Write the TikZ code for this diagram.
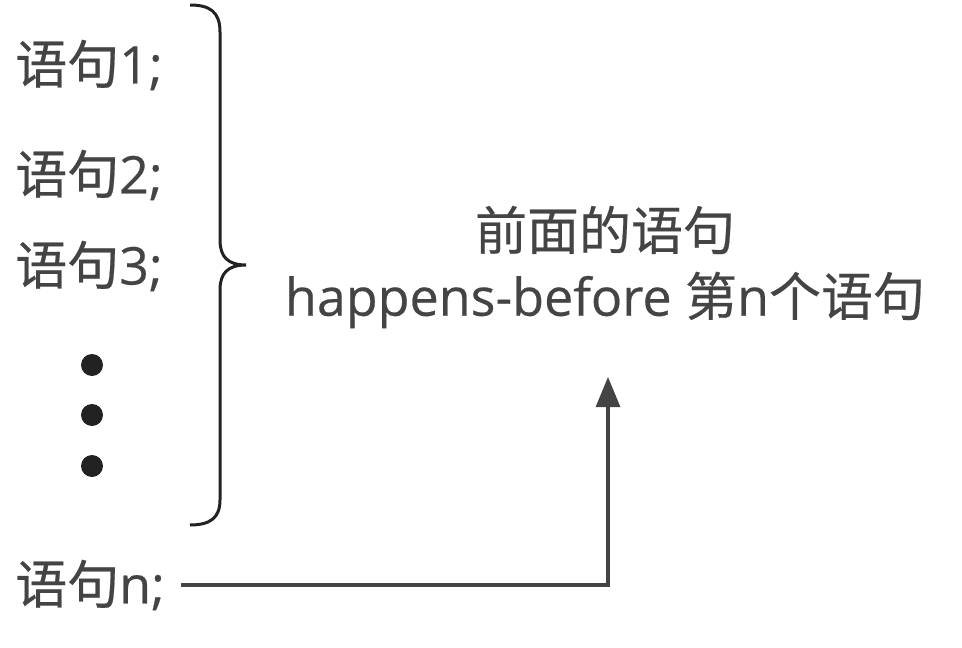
\documentclass[tikz,border=0pt]{standalone}
\usepackage{fontspec}
\setmainfont{Open Sans}[FakeBold=0.4]
\newfontfamily\cjk{Noto Sans CJK SC}[FakeBold=0.4]
\usepackage{xcolor}
\usetikzlibrary{arrows.meta}
\definecolor{ink}{HTML}{444444}
\definecolor{dotc}{HTML}{222222}

\begin{document}
\begin{tikzpicture}[x=1pt, y=-1pt,
    every node/.style={text=ink, font=\fontsize{52}{62}\selectfont, inner sep=0pt},
    stmt/.style={anchor=west},
    dotm/.style={circle, fill=dotc, minimum size=22pt},
    link/.style={draw=ink, line width=3.2pt, -{Triangle[width=24pt,length=30pt]}}]

    \useasboundingbox (0,0) rectangle (962,648);

    \node [stmt] (a) at (15, 65) {{\cjk 语句}1;};
    \node [stmt] (b) at (15, 175) {{\cjk 语句}2;};
    \node [stmt] (c) at (15, 266) {{\cjk 语句}3;};
    \node [dotm] (d1) at (92, 365) {};
    \node [dotm] (d2) at (92, 415) {};
    \node [dotm] (d3) at (92, 466) {};
    \node [stmt] (e) at (15, 585) {{\cjk 语句}n;};
    \node (f) at (605, 230) {\cjk 前面的语句};
    \node (g) at (605, 300) {happens-before {\cjk 第}n{\cjk 个语句}};
    \coordinate (t) at (608, 377);

    \draw [draw=dotc, line width=3pt] (190, 5) .. controls (210, 5) and (220, 12) .. (220, 32)
        -- (220, 240) .. controls (220, 257) and (228, 265) .. (246, 265)
        .. controls (228, 265) and (220, 273) .. (220, 290)
        -- (220, 500) .. controls (220, 518) and (210, 525) .. (190, 525);
    \draw [link] ([xshift=16pt]e.east) -| (t);

\end{tikzpicture}
\end{document}
